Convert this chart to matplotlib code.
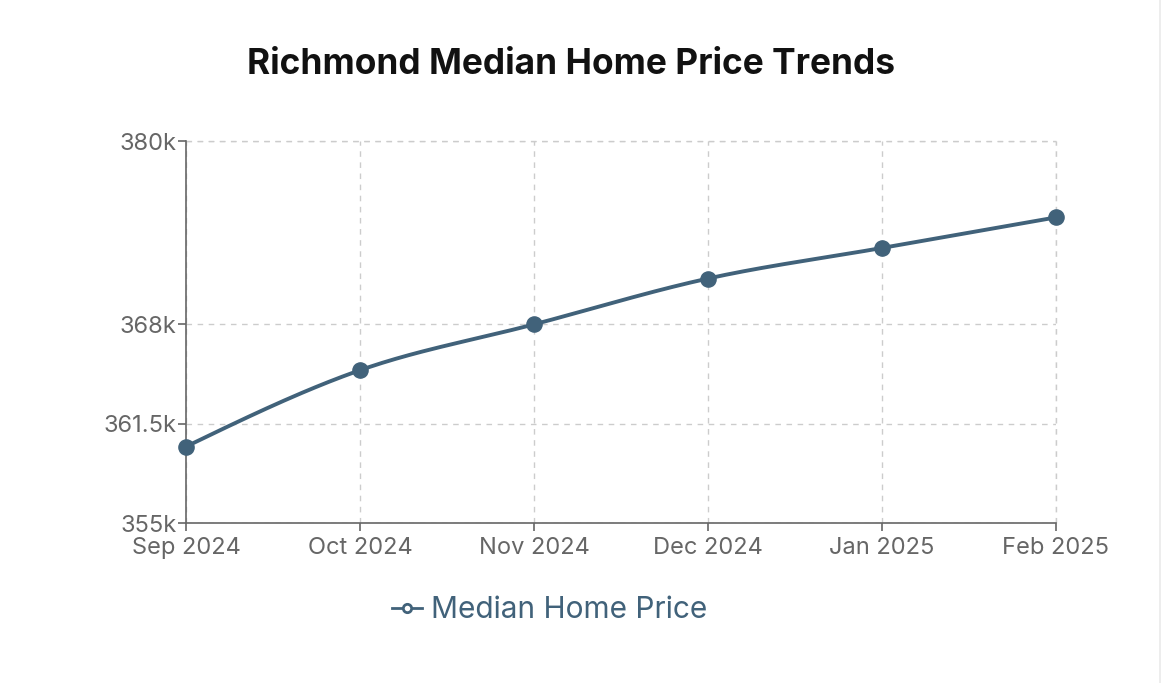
import numpy as np
import matplotlib
matplotlib.use("Agg")
import matplotlib.pyplot as plt
from matplotlib.lines import Line2D
from matplotlib.patches import FancyBboxPatch

months = ["Sep 2024", "Oct 2024", "Nov 2024", "Dec 2024", "Jan 2025", "Feb 2025"]
prices = [360000, 365000, 368000, 371000, 373000, 375000]
y_ticks = [355000, 361500, 368000, 380000]
y_tick_labels = ["355k", "361.5k", "368k", "380k"]
series_name = "Median Home Price"
title = "Richmond Median Home Price Trends"

LINE = "#41627a"
TICK = "#666666"

plt.rcParams['font.family'] = ['Inter', 'DejaVu Sans']


def monotone_x(x, y, n=40):
    # d3 curveMonotoneX rendering of the given points
    x = np.asarray(x, float); y = np.asarray(y, float)
    k = len(x)
    h = np.diff(x); s = np.diff(y) / h
    t = np.zeros(k)
    for i in range(1, k - 1):
        s0, s1 = s[i - 1], s[i]
        p = (s0 * h[i] + s1 * h[i - 1]) / (h[i - 1] + h[i])
        t[i] = (np.sign(s0) + np.sign(s1)) * min(abs(s0), abs(s1), 0.5 * abs(p))
    t[0] = (3 * s[0] - t[1]) / 2 if k > 2 else s[0]
    t[-1] = (3 * s[-1] - t[-2]) / 2 if k > 2 else s[-1]
    xs, ys = [], []
    for i in range(k - 1):
        u = np.linspace(0, 1, n)
        dx = h[i] / 3
        p0 = (x[i], y[i]); p1 = (x[i] + dx, y[i] + dx * t[i])
        p2 = (x[i + 1] - dx, y[i + 1] - dx * t[i + 1]); p3 = (x[i + 1], y[i + 1])
        bx = (1-u)**3*p0[0] + 3*(1-u)**2*u*p1[0] + 3*(1-u)*u**2*p2[0] + u**3*p3[0]
        by = (1-u)**3*p0[1] + 3*(1-u)**2*u*p1[1] + 3*(1-u)*u**2*p2[1] + u**3*p3[1]
        xs.extend(bx); ys.extend(by)
    return np.array(xs), np.array(ys)


fig = plt.figure(figsize=(11.64, 6.83), dpi=100)
fig.patch.set_facecolor("white")
W, H = 1164, 683
ax = fig.add_axes([186 / W, 1 - 523 / H, (1056 - 186) / W, (523 - 141) / H])

xpos = np.arange(len(months))
cx, cy = monotone_x(xpos, prices)
ax.plot(cx, cy, color=LINE, lw=2.8, solid_capstyle="round", zorder=3)
ax.scatter(xpos, prices, s=120, color=LINE, zorder=4, clip_on=False)

ax.set_xlim(0, len(months) - 1)
ax.set_ylim(355000, 380000)
ax.set_xticks(xpos)
ax.set_xticklabels(months)
ax.set_yticks(y_ticks)
ax.set_yticklabels(y_tick_labels)

ax.grid(True, color="#cccccc", linestyle=(0, (4, 4)), lw=1.0)
ax.set_axisbelow(True)
for side in ["top", "right"]:
    ax.spines[side].set_visible(False)
for side in ["left", "bottom"]:
    ax.spines[side].set_color("#666666")
    ax.spines[side].set_linewidth(1.2)
ax.tick_params(axis="both", colors="#666666", labelcolor=TICK, labelsize=17, length=6, width=1.2)
ax.tick_params(axis="x", pad=4)
ax.tick_params(axis="y", pad=1)

# dashed outer frame lines (top and right grid edges)
ax.axhline(380000, color="#cccccc", linestyle=(0, (4, 4)), lw=1.0, zorder=1, clip_on=False)
ax.axvline(len(months) - 1, color="#cccccc", linestyle=(0, (4, 4)), lw=1.0, zorder=1, clip_on=False)

fig.text(571 / W, 1 - 65 / H, title, ha="center", va="center",
         fontsize=25.4, fontweight="bold", color="#111111")

handle = Line2D([], [], color=LINE, lw=2, marker="o", markersize=6,
                markerfacecolor="white", markeredgecolor=LINE, markeredgewidth=2)
leg = fig.legend([handle], [series_name], loc="center", bbox_to_anchor=(550 / W, 1 - 610 / H),
                 frameon=False, fontsize=21.5, handlelength=1.0, handletextpad=0.3)
for t in leg.get_texts():
    t.set_color(LINE)

# faint card border
card = FancyBboxPatch((-20 / W, -20 / H), (1160 + 20) / W, (H + 40) / H,
                      boxstyle="round,pad=0,rounding_size=0.02", transform=fig.transFigure,
                      facecolor="none", edgecolor="#e6e6e6", lw=1.0)
fig.patches.append(card)

fig.savefig("out.png", dpi=100, facecolor="white")
